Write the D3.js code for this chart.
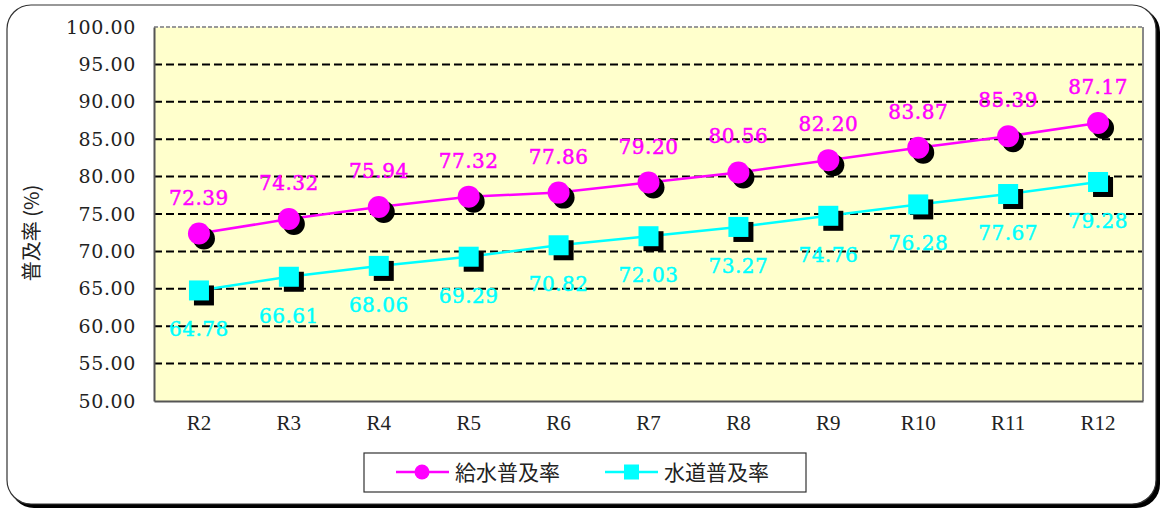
<!DOCTYPE html>
<html>
<head>
<meta charset="utf-8">
<script src="https://cdn.jsdelivr.net/npm/d3@7"></script>
<style>
  body { margin: 0; background: #fff; }
  svg { display: block; }
</style>
</head>
<body>
<div id="chart"></div>
<script>
const years = ['R2', 'R3', 'R4', 'R5', 'R6', 'R7', 'R8', 'R9', 'R10', 'R11', 'R12'];
const kyusui = [72.39, 74.32, 75.94, 77.32, 77.86, 79.20, 80.56, 82.20, 83.87, 85.39, 87.17];
const suido = [64.78, 66.61, 68.06, 69.29, 70.82, 72.03, 73.27, 74.76, 76.28, 77.67, 79.28];
const yTicks = [50, 55, 60, 65, 70, 75, 80, 85, 90, 95, 100];
const seriesNames = ['給水普及率', '水道普及率'];

const width = 1163, height = 511;
const margin = {top: 27, right: 20, bottom: 110, left: 154};
const plotW = 1143 - margin.left;
const plotH = 401 - margin.top;

const svg = d3.select('#chart').append('svg')
  .attr('width', width)
  .attr('height', height);

// outer frame with shadow
svg.append('rect')
  .attr('x', 10).attr('y', 8)
  .attr('width', 1150).attr('height', 500)
  .attr('rx', 24)
  .attr('fill', '#000');
svg.append('rect')
  .attr('x', 7).attr('y', 5)
  .attr('width', 1149).attr('height', 499)
  .attr('rx', 24)
  .attr('fill', '#fff')
  .attr('stroke', '#333')
  .attr('stroke-width', 1.2);

const g = svg.append('g')
  .attr('transform', `translate(${margin.left}, ${margin.top})`);

const x = d3.scaleBand().domain(years).range([0, plotW]);
const y = d3.scaleLinear().domain([50, 100]).range([plotH, 0]);

g.append('rect')
  .attr('width', plotW).attr('height', plotH)
  .attr('fill', '#ffffcc');

// grid
g.selectAll('.grid')
  .data(yTicks.filter(d => d > 50 && d < 100))
  .enter().append('line')
  .attr('x1', 0).attr('x2', plotW)
  .attr('y1', d => y(d)).attr('y2', d => y(d))
  .attr('stroke', '#000')
  .attr('stroke-width', 2)
  .attr('stroke-dasharray', '8,4');

// top / right border
g.append('line')
  .attr('x1', 0).attr('x2', plotW).attr('y1', 0).attr('y2', 0)
  .attr('stroke', '#999').attr('stroke-width', 2).attr('stroke-dasharray', '4,2');
g.append('line')
  .attr('x1', plotW).attr('x2', plotW).attr('y1', 0).attr('y2', plotH)
  .attr('stroke', '#888').attr('stroke-width', 2);

// axes
const yAxis = g.append('g')
  .call(d3.axisLeft(y).tickValues(yTicks).tickSize(0).tickPadding(18)
    .tickFormat(d => d3.format('.2f')(d)));
yAxis.select('.domain').attr('stroke', '#555').attr('stroke-width', 2);
yAxis.selectAll('text')
  .style('font-family', '"DejaVu Serif", serif')
  .attr('font-size', 19)
  .attr('letter-spacing', 0.6)
  .attr('fill', '#222');

const xAxis = g.append('g')
  .attr('transform', `translate(0, ${plotH})`)
  .call(d3.axisBottom(x).tickSize(0).tickPadding(14));
xAxis.select('.domain').attr('stroke', '#555').attr('stroke-width', 2);
xAxis.selectAll('text')
  .style('font-family', '"Liberation Serif", serif')
  .attr('font-size', 21)
  .attr('fill', '#222');

// y label
svg.append('text')
  .attr('transform', 'translate(39, 233) rotate(-90)')
  .attr('text-anchor', 'middle')
  .attr('font-family', '"Noto Sans CJK JP", sans-serif')
  .attr('font-size', 20)
  .attr('fill', '#222')
  .text('普及率 (%)');

const cx = d => x(d) + x.bandwidth() / 2;
const line = d3.line().x((d, i) => cx(years[i])).y(d => y(d));

// lines
g.append('path').datum(kyusui)
  .attr('d', line).attr('fill', 'none')
  .attr('stroke', '#ff00ff').attr('stroke-width', 2.5);
g.append('path').datum(suido)
  .attr('d', line).attr('fill', 'none')
  .attr('stroke', '#00ffff').attr('stroke-width', 2.5);

// markers with shadows
const sq = 20;
g.selectAll('.sqShadow').data(suido).enter().append('rect')
  .attr('x', (d, i) => cx(years[i]) - sq / 2 + 5)
  .attr('y', d => y(d) - sq / 2 + 5)
  .attr('width', sq).attr('height', sq)
  .attr('fill', '#000');
g.selectAll('.sq').data(suido).enter().append('rect')
  .attr('x', (d, i) => cx(years[i]) - sq / 2)
  .attr('y', d => y(d) - sq / 2)
  .attr('width', sq).attr('height', sq)
  .attr('fill', '#00ffff');

g.selectAll('.cShadow').data(kyusui).enter().append('circle')
  .attr('cx', (d, i) => cx(years[i]) + 5)
  .attr('cy', d => y(d) + 5)
  .attr('r', 11)
  .attr('fill', '#000');
g.selectAll('.c').data(kyusui).enter().append('circle')
  .attr('cx', (d, i) => cx(years[i]))
  .attr('cy', d => y(d))
  .attr('r', 11)
  .attr('fill', '#ff00ff');

// data labels
function dataLabels(values, color, dy, cls) {
  g.selectAll('.' + cls).data(values).enter().append('text')
    .attr('class', cls)
    .attr('x', (d, i) => cx(years[i]))
    .attr('y', d => y(d) + dy)
    .attr('text-anchor', 'middle')
    .style('font-family', '"DejaVu Serif", serif')
    .attr('font-size', 20)
    .attr('letter-spacing', 0.5)
    .attr('fill', color)
    .attr('stroke', color)
    .attr('stroke-width', 0.5)
    .text(d => d3.format('.2f')(d));
}
dataLabels(kyusui, '#ff00ff', -29, 'lblK');
dataLabels(suido, '#00ffff', 46, 'lblS');

// legend
const legend = svg.append('g');
legend.append('rect')
  .attr('x', 364).attr('y', 453)
  .attr('width', 442).attr('height', 39)
  .attr('fill', '#fff')
  .attr('stroke', '#333').attr('stroke-width', 1.2);

const legendItems = [
  {name: seriesNames[0], color: '#ff00ff', shape: 'circle', x0: 396},
  {name: seriesNames[1], color: '#00ffff', shape: 'square', x0: 605}
];
legendItems.forEach(item => {
  const lg = legend.append('g').attr('transform', `translate(${item.x0}, 472)`);
  lg.append('line').attr('x1', 0).attr('x2', 53).attr('y1', 0).attr('y2', 0)
    .attr('stroke', item.color).attr('stroke-width', 2.5);
  if (item.shape === 'circle') {
    lg.append('circle').attr('cx', 26).attr('cy', 0).attr('r', 7.5).attr('fill', item.color);
  } else {
    lg.append('rect').attr('x', 19).attr('y', -7.5).attr('width', 15).attr('height', 15).attr('fill', item.color);
  }
  lg.append('text')
    .attr('x', 59).attr('y', 8)
    .attr('font-family', '"Noto Sans CJK JP", sans-serif')
    .attr('font-size', 21)
    .attr('fill', '#222')
    .text(item.name);
});
</script>
</body>
</html>
